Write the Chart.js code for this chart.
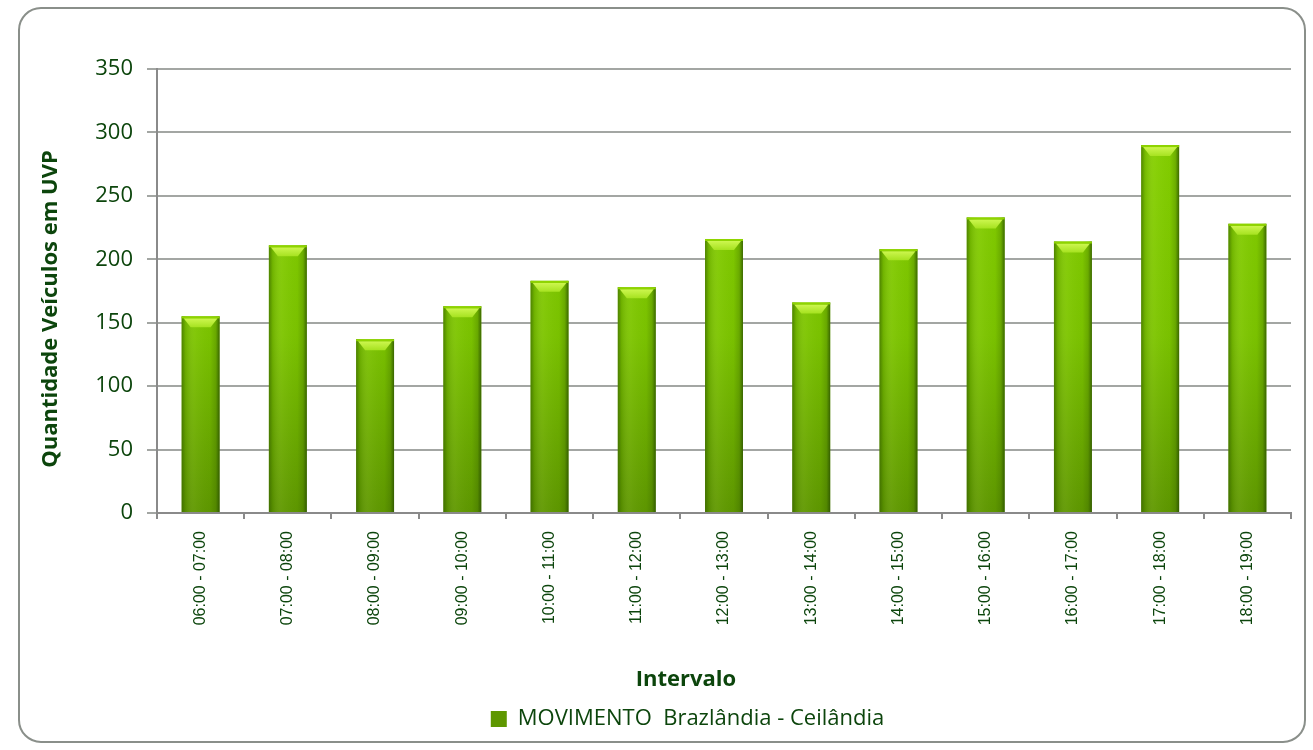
<!DOCTYPE html>
<html>
<head>
<meta charset="utf-8">
<script src="https://cdn.jsdelivr.net/npm/chart.js@4.4.0/dist/chart.umd.min.js"></script>
<style>
  html, body { margin: 0; padding: 0; background: #fff; }
  #wrap { width: 1313px; height: 750px; }
</style>
</head>
<body>
<div id="wrap"><canvas id="chart" width="1313" height="750"></canvas></div>
<script>
// intervalos e contagens
const intervals = ['06:00 - 07:00', '07:00 - 08:00', '08:00 - 09:00', '09:00 - 10:00', '10:00 - 11:00',
  '11:00 - 12:00', '12:00 - 13:00', '13:00 - 14:00', '14:00 - 15:00', '15:00 - 16:00',
  '16:00 - 17:00', '17:00 - 18:00', '18:00 - 19:00'];
const movimento = [155, 211, 137, 163, 183, 178, 216, 166, 208, 233, 214, 290, 228];
const seriesName = 'MOVIMENTO  Brazlândia - Ceilândia';
const xTitle = 'Intervalo';
const yTitle = 'Quantidade Veículos em UVP';
const yMax = 350;
const yStep = 50;

const textGreen = '#0c450c';

// moldura arredondada em volta do grafico
const frame = {
  id: 'frame',
  beforeDraw(chart) {
    const ctx = chart.ctx;
    ctx.save();
    ctx.fillStyle = '#fff';
    ctx.fillRect(0, 0, chart.width, chart.height);
    ctx.beginPath();
    ctx.roundRect(19, 8, 1286, 734, 22);
    ctx.strokeStyle = '#8a8f8a';
    ctx.lineWidth = 2;
    ctx.stroke();
    ctx.restore();
  }
};

// titulos dos eixos centrados como no Excel (no grafico inteiro)
const axisTitles = {
  id: 'axisTitles',
  afterLayout(chart) {
    // legenda um pouco deslocada para a direita
    chart.legend.left += 23;
    chart.legend.right += 23;
  },
  afterDraw(chart) {
    const ctx = chart.ctx;
    ctx.save();
    ctx.fillStyle = textGreen;
    ctx.font = 'bold 22px "Open Sans"';
    ctx.textAlign = 'center';
    ctx.textBaseline = 'middle';
    ctx.fillText(xTitle, 686, 680);
    ctx.translate(51, 309);
    ctx.rotate(-Math.PI / 2);
    ctx.fillText(yTitle, 0, 0);
    ctx.restore();
  }
};

// sombreado tipo cilindro nas barras
const barShade = {
  id: 'barShade',
  afterDatasetsDraw(chart) {
    const ctx = chart.ctx;
    chart.getDatasetMeta(0).data.forEach(bar => {
      const p = bar.getProps(['x', 'y', 'base', 'width'], true);
      const l = p.x - p.width / 2, r = p.x + p.width / 2;
      ctx.save();
      const g = ctx.createLinearGradient(l, 0, r, 0);
      g.addColorStop(0, 'rgba(45,85,0,0.6)');
      g.addColorStop(0.1, 'rgba(45,85,0,0.18)');
      g.addColorStop(0.35, 'rgba(255,255,200,0.05)');
      g.addColorStop(0.75, 'rgba(45,85,0,0.03)');
      g.addColorStop(0.9, 'rgba(45,85,0,0.25)');
      g.addColorStop(1, 'rgba(35,70,0,0.75)');
      ctx.fillStyle = g;
      ctx.fillRect(l, p.y, p.width, p.base - p.y);
      // tampa superior
      const c = ctx.createLinearGradient(0, p.y, 0, p.y + 11);
      c.addColorStop(0, '#d6fb5a');
      c.addColorStop(1, '#a6e220');
      ctx.fillStyle = c;
      ctx.beginPath();
      ctx.moveTo(l + 2, p.y + 2);
      ctx.lineTo(r - 2, p.y + 2);
      ctx.lineTo(r - 9, p.y + 11);
      ctx.lineTo(l + 9, p.y + 11);
      ctx.closePath();
      ctx.fill();
      ctx.fillStyle = '#8fd400';
      ctx.fillRect(l, p.y, p.width, 2);
      ctx.restore();
    });
  }
};

function barFill(context) {
  const chart = context.chart;
  const area = chart.chartArea;
  if (!area) return '#76bb00';
  const g = chart.ctx.createLinearGradient(0, area.top, 0, area.bottom);
  g.addColorStop(0, '#88d400');
  g.addColorStop(0.6, '#7cc400');
  g.addColorStop(1, '#5e9700');
  return g;
}

new Chart(document.getElementById('chart'), {
  type: 'bar',
  data: {
    labels: intervals,
    datasets: [{
      label: seriesName,
      data: movimento,
      backgroundColor: barFill,
      borderWidth: 0,
      categoryPercentage: 1,
      barPercentage: 0.435
    }]
  },
  options: {
    responsive: false,
    animation: false,
    layout: { padding: { left: 38, right: 22, top: 69, bottom: 10 } },
    plugins: {
      tooltip: { enabled: false },
      legend: {
        position: 'bottom',
        labels: {
          color: textGreen,
          font: { family: 'Open Sans', size: 22 },
          boxWidth: 16,
          boxHeight: 16,
          padding: 9
        }
      }
    },
    scales: {
      x: {
        afterFit(scale) { scale.height = 186; },
        grid: { drawOnChartArea: false, drawTicks: true, tickLength: 6, color: '#8a8a8a', lineWidth: 2 },
        border: { color: '#8a8a8a', width: 2 },
        ticks: {
          color: textGreen,
          font: { family: 'Liberation Sans', size: 16 },
          minRotation: 90,
          maxRotation: 90,
          padding: 12
        }
      },
      y: {
        min: 0,
        max: yMax,
        afterFit(scale) { scale.width = 119; },
        ticks: {
          stepSize: yStep,
          color: textGreen,
          font: { family: 'Open Sans', size: 22 },
          padding: 14
        },
        grid: { color: '#a3a6a3', lineWidth: 2, tickLength: 10 },
        border: { color: '#8a8a8a', width: 2 }
      }
    }
  },
  plugins: [frame, axisTitles, barShade]
});
</script>
</body>
</html>
